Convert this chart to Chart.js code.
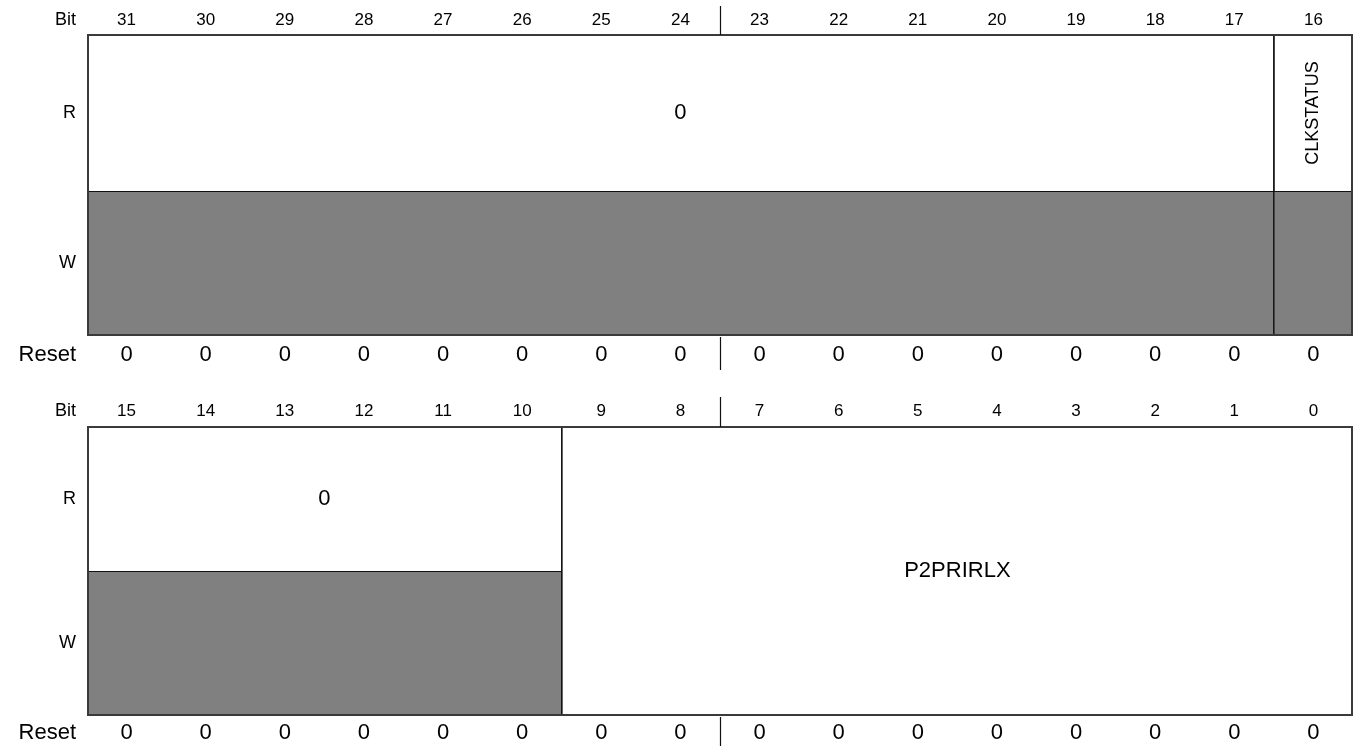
<!DOCTYPE html>
<html>
<head>
<meta charset="utf-8">
<script src="https://cdn.jsdelivr.net/npm/chart.js@4.4.1/dist/chart.umd.min.js"></script>
<style>
  html, body { margin: 0; padding: 0; background: #fff; }
  #wrap { width: 1354px; height: 747px; }
</style>
</head>
<body>
<div id="wrap"><canvas id="regChart"></canvas></div>
<script>
// bit numbers shown above each half of the register
var topBits = [31, 30, 29, 28, 27, 26, 25, 24, 23, 22, 21, 20, 19, 18, 17, 16];
var bottomBits = [15, 14, 13, 12, 11, 10, 9, 8, 7, 6, 5, 4, 3, 2, 1, 0];

// reset values
var topReset = [0, 0, 0, 0, 0, 0, 0, 0, 0, 0, 0, 0, 0, 0, 0, 0];
var bottomReset = [0, 0, 0, 0, 0, 0, 0, 0, 0, 0, 0, 0, 0, 0, 0, 0];

// register fields
var fieldNames = ["0", "CLKSTATUS", "0", "P2PRIRLX"];
var fieldHigh = [31, 16, 15, 9];
var fieldLow = [17, 16, 10, 0];
var fieldAccess = ["R", "R", "R", "RW"];

var rowLabels = ["Bit", "R", "W", "Reset"];

var FONT = "'Liberation Sans', Arial, Helvetica, sans-serif";
var GRAY = "#808080";

// vertical layout of the two halves (y axis units)
var blocks = [
    { bits: topBits, reset: topReset, bitY: 20, boxTop: 35, split: 191, boxBottom: 335, resetY: 355 },
    { bits: bottomBits, reset: bottomReset, bitY: 411, boxTop: 427, split: 571, boxBottom: 715, resetY: 733 }
];

var rowTickValues = [];
var rowTickNames = [];
blocks.forEach(function (b) {
    rowTickValues.push(b.bitY, (b.boxTop + b.split) / 2, (b.split + b.boxBottom) / 2, b.resetY);
    rowTickNames.push(rowLabels[0], rowLabels[1], rowLabels[2], rowLabels[3]);
});

var registerPlugin = {
    id: "register",
    afterDraw: function (chart) {
        var ctx = chart.ctx;
        var xs = chart.scales.x;
        var ys = chart.scales.y;

        blocks.forEach(function (b) {
            var colX = function (i) { return xs.getPixelForValue(i); };
            var top = ys.getPixelForValue(b.boxTop);
            var split = ys.getPixelForValue(b.split);
            var bottom = ys.getPixelForValue(b.boxBottom);
            var left = colX(0);
            var right = colX(b.bits.length);

            ctx.save();
            ctx.fillStyle = "#000";
            ctx.textAlign = "center";
            ctx.textBaseline = "middle";

            // bit numbers
            ctx.font = "17px " + FONT;
            b.bits.forEach(function (bit, i) {
                ctx.fillText(String(bit), colX(i + 0.5), ys.getPixelForValue(b.bitY));
            });

            // reset values
            ctx.font = "22px " + FONT;
            b.reset.forEach(function (v, i) {
                ctx.fillText(String(v), colX(i + 0.5), ys.getPixelForValue(b.resetY));
            });

            // fields
            for (var f = 0; f < fieldNames.length; f++) {
                var hi = b.bits.indexOf(fieldHigh[f]);
                var lo = b.bits.indexOf(fieldLow[f]);
                if (hi < 0 || lo < 0) continue;
                var fl = colX(hi);
                var fr = colX(lo + 1);
                var readOnly = fieldAccess[f] === "R";

                if (readOnly) {
                    ctx.fillStyle = GRAY;
                    ctx.fillRect(fl, split, fr - fl, bottom - split);
                    ctx.strokeStyle = "#111";
                    ctx.lineWidth = 1.2;
                    ctx.beginPath();
                    ctx.moveTo(fl, split + 0.5);
                    ctx.lineTo(fr, split + 0.5);
                    ctx.stroke();
                }

                // field separators
                ctx.strokeStyle = "#111";
                ctx.lineWidth = 1.3;
                ctx.beginPath();
                if (hi > 0) { ctx.moveTo(fl, top); ctx.lineTo(fl, bottom); }
                if (lo + 1 < b.bits.length) { ctx.moveTo(fr, top); ctx.lineTo(fr, bottom); }
                ctx.stroke();

                // field name
                ctx.fillStyle = "#000";
                var cy = readOnly ? (top + split) / 2 : (top + bottom) / 2;
                var cx = (fl + fr) / 2;
                var size = fieldNames[f].length > 1 && readOnly ? 18 : 22;
                ctx.font = size + "px " + FONT;
                var w = ctx.measureText(fieldNames[f]).width;
                if (w > fr - fl - 6) {
                    ctx.save();
                    ctx.translate(cx, cy);
                    ctx.rotate(-Math.PI / 2);
                    ctx.fillText(fieldNames[f], 0, 0);
                    ctx.restore();
                } else {
                    ctx.fillText(fieldNames[f], cx, cy);
                }
            }

            // outer box
            ctx.strokeStyle = "#3a3a3a";
            ctx.lineWidth = 2;
            ctx.strokeRect(left + 1, top, right - left - 2, bottom - top);

            // byte divider ticks
            var mid = Math.round(colX(b.bits.length / 2)) + 0.5;
            ctx.strokeStyle = "#111";
            ctx.lineWidth = 1.2;
            ctx.beginPath();
            ctx.moveTo(mid, ys.getPixelForValue(b.bitY - 14));
            ctx.lineTo(mid, top);
            ctx.moveTo(mid, bottom + 2);
            ctx.lineTo(mid, Math.min(ys.getPixelForValue(b.resetY + 15), chart.height - 1));
            ctx.stroke();
            ctx.restore();
        });
    }
};

new Chart("regChart", {
    type: "scatter",
    data: { datasets: [] },
    options: {
        responsive: true,
        maintainAspectRatio: false,
        animation: false,
        layout: { padding: { left: 0, right: 1, top: 0, bottom: 0 } },
        plugins: {
            legend: { display: false },
            tooltip: { enabled: false }
        },
        scales: {
            x: {
                type: "linear",
                min: 0,
                max: 16,
                display: false
            },
            y: {
                type: "linear",
                min: 0,
                max: 747,
                reverse: true,
                afterFit: function (axis) {
                    axis.width = 87;
                    axis.paddingTop = 0;
                    axis.paddingBottom = 0;
                },
                afterBuildTicks: function (axis) {
                    axis.ticks = rowTickValues.map(function (v) { return { value: v }; });
                },
                grid: { display: false, drawTicks: false },
                border: { display: false },
                ticks: {
                    autoSkip: false,
                    padding: 11,
                    color: "#000",
                    callback: function (value, index) { return rowTickNames[index]; },
                    font: function (c) {
                        var isReset = rowTickNames[c.index] === "Reset";
                        return { family: FONT, size: isReset ? 22 : 18 };
                    }
                }
            }
        }
    },
    plugins: [registerPlugin]
});
</script>
</body>
</html>
